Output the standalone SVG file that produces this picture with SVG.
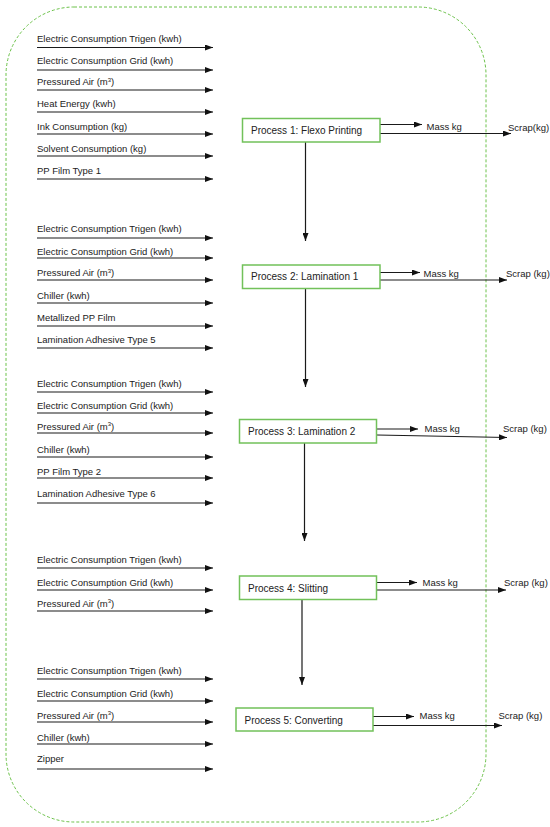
<svg xmlns="http://www.w3.org/2000/svg" width="550" height="827" viewBox="0 0 550 827">
<defs>
<marker id="ah" markerUnits="userSpaceOnUse" markerWidth="8" markerHeight="6" refX="8" refY="3" orient="auto">
<path d="M0,0 L8,3 L0,6 z" fill="#111"/>
</marker>
<style>
.in{font-family:"Liberation Sans",Arial,sans-serif;font-size:9.5px;fill:#222}
.pt{font-family:"Liberation Sans",Arial,sans-serif;font-size:10px;fill:#222}
.ot{font-family:"Liberation Sans",Arial,sans-serif;font-size:9.5px;fill:#222}
.ln{stroke:#1a1a1a;stroke-width:1.2;fill:none;marker-end:url(#ah)}
.box{fill:#fff;stroke:#72c15a;stroke-width:1.5}
.bd{fill:none;stroke:#6cc24a;stroke-width:1;stroke-dasharray:3,2}
</style>
</defs>
<rect width="550" height="827" fill="#fff"/>
<g id="boundary"><rect class="bd" x="6" y="7" width="480" height="815" rx="68" ry="68"/></g>
<g id="connectors">
<!-- section 1 inputs -->
<line class="ln" x1="37" y1="47.5" x2="213" y2="47.5"/>
<line class="ln" x1="37" y1="70" x2="213" y2="70"/>
<line class="ln" x1="37" y1="90" x2="213" y2="90"/>
<line class="ln" x1="37" y1="112" x2="213" y2="112"/>
<line class="ln" x1="37" y1="134" x2="213" y2="134"/>
<line class="ln" x1="37" y1="156" x2="213" y2="156"/>
<line class="ln" x1="37" y1="179" x2="213" y2="179"/>
<!-- section 2 inputs -->
<line class="ln" x1="37" y1="238" x2="213" y2="238"/>
<line class="ln" x1="37" y1="258" x2="213" y2="258"/>
<line class="ln" x1="37" y1="280" x2="213" y2="280"/>
<line class="ln" x1="37" y1="303" x2="213" y2="303"/>
<line class="ln" x1="37" y1="326" x2="213" y2="326"/>
<line class="ln" x1="37" y1="348" x2="213" y2="348"/>
<!-- section 3 inputs -->
<line class="ln" x1="37" y1="392" x2="213" y2="392"/>
<line class="ln" x1="37" y1="413" x2="213" y2="413"/>
<line class="ln" x1="37" y1="433" x2="213" y2="433"/>
<line class="ln" x1="37" y1="457" x2="213" y2="457"/>
<line class="ln" x1="37" y1="478" x2="213" y2="478"/>
<line class="ln" x1="37" y1="503" x2="213" y2="503"/>
<!-- section 4 inputs -->
<line class="ln" x1="37" y1="568" x2="213" y2="568"/>
<line class="ln" x1="37" y1="590" x2="213" y2="590"/>
<line class="ln" x1="37" y1="611" x2="213" y2="611"/>
<!-- section 5 inputs -->
<line class="ln" x1="37" y1="679" x2="213" y2="679"/>
<line class="ln" x1="37" y1="701" x2="213" y2="701"/>
<line class="ln" x1="37" y1="722" x2="213" y2="722"/>
<line class="ln" x1="37" y1="744" x2="213" y2="744"/>
<line class="ln" x1="37" y1="769" x2="213" y2="769"/>
<!-- outputs -->
<line class="ln" x1="380" y1="124.5" x2="422" y2="124.5"/>
<line class="ln" x1="380" y1="133.5" x2="511" y2="133.5"/>
<line class="ln" x1="380" y1="272.5" x2="420" y2="272.5"/>
<line class="ln" x1="380" y1="280" x2="507" y2="280"/>
<line class="ln" x1="377" y1="429" x2="418" y2="429"/>
<line class="ln" x1="377" y1="435" x2="507" y2="437.5"/>
<line class="ln" x1="377" y1="582.5" x2="417" y2="582.5"/>
<line class="ln" x1="377" y1="590" x2="506" y2="590"/>
<line class="ln" x1="373" y1="716.5" x2="414" y2="716.5"/>
<line class="ln" x1="373" y1="725.5" x2="502" y2="725.5"/>
<!-- flow -->
<line class="ln" x1="305.5" y1="142" x2="305.5" y2="241"/>
<line class="ln" x1="305.5" y1="288.5" x2="305.5" y2="387"/>
<line class="ln" x1="304.5" y1="443" x2="304.5" y2="541"/>
<line class="ln" x1="302" y1="599.5" x2="302" y2="685"/>
</g>
<g id="inputs1">
<text class="in" x="37" y="42">Electric Consumption Trigen (kwh)</text>
<text class="in" x="37" y="64">Electric Consumption Grid (kwh)</text>
<text class="in" x="37" y="85">Pressured Air (m<tspan font-size="6" dy="-3.5">3</tspan><tspan dy="3.5">)</tspan></text>
<text class="in" x="37" y="107">Heat Energy (kwh)</text>
<text class="in" x="37" y="129.5">Ink Consumption (kg)</text>
<text class="in" x="37" y="151.5">Solvent Consumption (kg)</text>
<text class="in" x="37" y="173.5">PP Film Type 1</text>
</g>
<g id="inputs2">
<text class="in" x="37" y="232">Electric Consumption Trigen (kwh)</text>
<text class="in" x="37" y="254.5">Electric Consumption Grid (kwh)</text>
<text class="in" x="37" y="276">Pressured Air (m<tspan font-size="6" dy="-3.5">3</tspan><tspan dy="3.5">)</tspan></text>
<text class="in" x="37" y="298.5">Chiller (kwh)</text>
<text class="in" x="37" y="320.5">Metallized PP Film</text>
<text class="in" x="37" y="342.5">Lamination Adhesive Type 5</text>
</g>
<g id="inputs3">
<text class="in" x="37" y="387">Electric Consumption Trigen (kwh)</text>
<text class="in" x="37" y="408.5">Electric Consumption Grid (kwh)</text>
<text class="in" x="37" y="429.5">Pressured Air (m<tspan font-size="6" dy="-3.5">3</tspan><tspan dy="3.5">)</tspan></text>
<text class="in" x="37" y="453">Chiller (kwh)</text>
<text class="in" x="37" y="474.5">PP Film Type 2</text>
<text class="in" x="37" y="497">Lamination Adhesive Type 6</text>
</g>
<g id="inputs4">
<text class="in" x="37" y="563">Electric Consumption Trigen (kwh)</text>
<text class="in" x="37" y="585.5">Electric Consumption Grid (kwh)</text>
<text class="in" x="37" y="606.5">Pressured Air (m<tspan font-size="6" dy="-3.5">3</tspan><tspan dy="3.5">)</tspan></text>
</g>
<g id="inputs5">
<text class="in" x="37" y="674">Electric Consumption Trigen (kwh)</text>
<text class="in" x="37" y="697">Electric Consumption Grid (kwh)</text>
<text class="in" x="37" y="718.5">Pressured Air (m<tspan font-size="6" dy="-3.5">3</tspan><tspan dy="3.5">)</tspan></text>
<text class="in" x="37" y="740.5">Chiller (kwh)</text>
<text class="in" x="37" y="762">Zipper</text>
</g>
<g id="process1">
<rect class="box" x="242.5" y="118.5" width="137.5" height="23.5"/>
<text class="pt" x="251" y="134">Process 1: Flexo Printing</text>
</g>
<g id="process2">
<rect class="box" x="242.5" y="265" width="137.5" height="23.5"/>
<text class="pt" x="251" y="280">Process 2: Lamination 1</text>
</g>
<g id="process3">
<rect class="box" x="239.5" y="419.5" width="137" height="23.5"/>
<text class="pt" x="248" y="435">Process 3: Lamination 2</text>
</g>
<g id="process4">
<rect class="box" x="239.5" y="576" width="137" height="23.5"/>
<text class="pt" x="248" y="592">Process 4: Slitting</text>
</g>
<g id="process5">
<rect class="box" x="236" y="708" width="137" height="23"/>
<text class="pt" x="244.5" y="723.5">Process 5: Converting</text>
</g>
<g id="outputs">
<text class="ot" x="426.5" y="129.5">Mass kg</text>
<text class="ot" x="508" y="130.5">Scrap(kg)</text>
<text class="ot" x="423.5" y="276.5">Mass kg</text>
<text class="ot" x="506" y="276.5">Scrap (kg)</text>
<text class="ot" x="424.5" y="431.5">Mass kg</text>
<text class="ot" x="503" y="431.5">Scrap (kg)</text>
<text class="ot" x="422.5" y="586">Mass kg</text>
<text class="ot" x="504" y="586">Scrap (kg)</text>
<text class="ot" x="419.5" y="719">Mass kg</text>
<text class="ot" x="498.5" y="719">Scrap (kg)</text>
</g>
</svg>
